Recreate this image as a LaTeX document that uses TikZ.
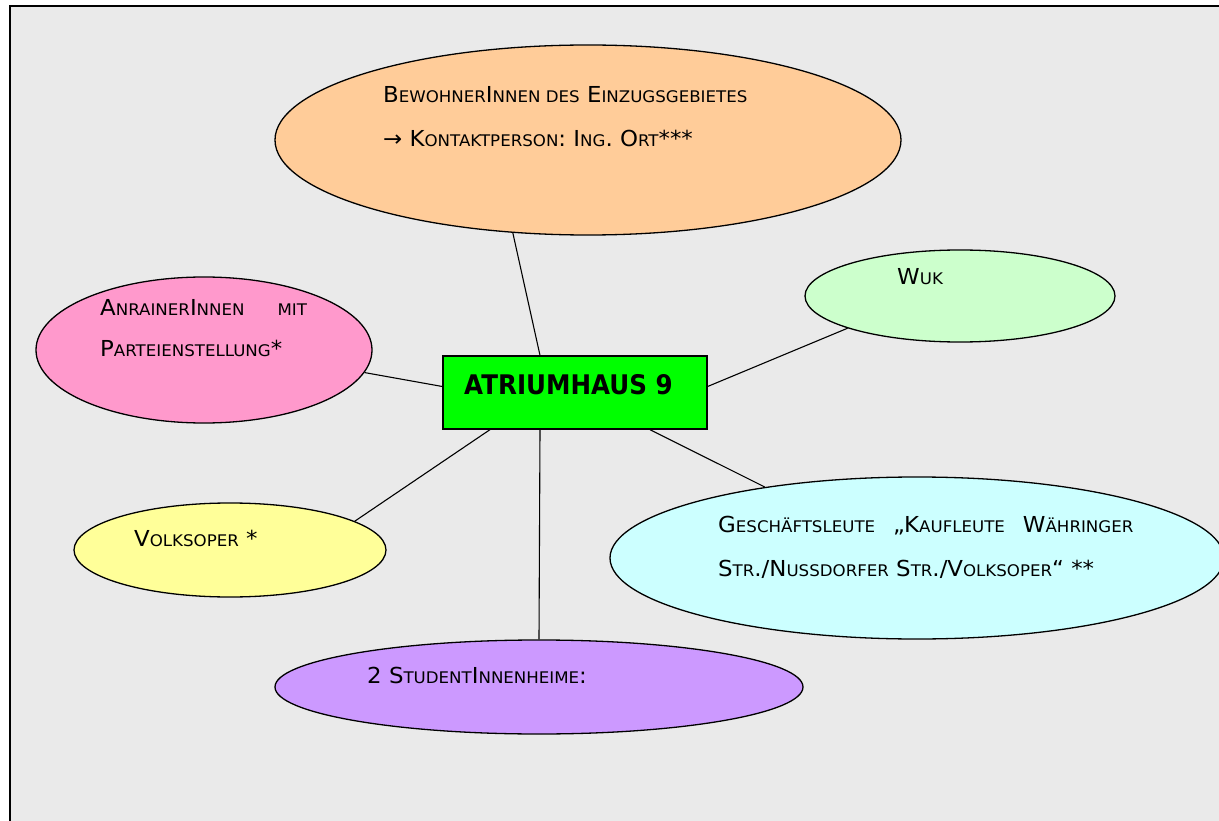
\documentclass[tikz,border=0pt]{standalone}
\usepackage{fontspec}
\setmainfont[FakeStretch=1.04]{DejaVu Sans}
\newfontfamily\hubfont[FakeStretch=0.91]{DejaVu Sans}
\usepackage{xcolor}
\usetikzlibrary{shapes.geometric}
\definecolor{bggray}{RGB}{234,234,234}
\definecolor{orangebub}{RGB}{255,204,153}
\definecolor{pinkbub}{RGB}{255,153,204}
\definecolor{greenbub}{RGB}{204,255,204}
\definecolor{yellowbub}{RGB}{255,255,153}
\definecolor{cyanbub}{RGB}{204,255,255}
\definecolor{purplebub}{RGB}{204,153,255}
\newcommand\smc[1]{{\fontsize{16}{18}\selectfont\MakeUppercase{#1}}}

\begin{document}
\begin{tikzpicture}[x=1pt,y=-1pt,
  bubble/.style={ellipse,draw,line width=1.3pt,inner sep=0pt},
  txt/.style={anchor=base west,inner sep=0pt,font=\fontsize{22}{24}\selectfont},
  link/.style={line width=1.1pt}]
\useasboundingbox (0,0) rectangle (1219,821);
\clip (0,0) rectangle (1219,821);
\fill[bggray] (10,6) rectangle (1219,821);
\draw[line width=2pt] (10,821) -- (10,6) -- (1219,6);

\node[bubble,fill=orangebub,minimum width=626,minimum height=190] (resid) at (588,140) {};
\node[txt] (residtxt) at (383,103) {B\smc{ewohner}I\smc{nnen des} E\smc{inzugsgebietes}};
\node[txt] (contact) at (383,147) {→ K\smc{ontaktperson}: I\smc{ng}. O\smc{rt}***};

\node[bubble,fill=pinkbub,minimum width=336,minimum height=146] (neigh) at (204,350) {};
\node[txt] (neightxt) at (100,316) {A\smc{nrainer}I\smc{nnen}\hspace{33pt}\smc{mit}};
\node[txt] (party) at (100,356) {P\smc{arteienstellung}*};

\node[bubble,fill=greenbub,minimum width=310,minimum height=92] (wuk) at (960,296) {};
\node[txt] (wuktxt) at (897,285) {W\smc{uk}};

\node[bubble,fill=yellowbub,minimum width=312,minimum height=94] (opera) at (230,550) {};
\node[txt] (operatxt) at (134,546) {V\smc{olksoper} *};

\node[bubble,fill=cyanbub,minimum width=614,minimum height=162] (trade) at (917,558) {};
\node[txt] (tradetxt) at (718,532) {G\smc{eschäftsleute}\hspace{18pt}„K\smc{aufleute}\hspace{18pt}W\smc{ähringer}};
\node[txt] (street) at (718,576) {S\smc{tr}./N\smc{ussdorfer} S\smc{tr}./V\smc{olksoper}“ **};

\node[bubble,fill=purplebub,minimum width=528,minimum height=94] (dorm) at (539,687) {};
\node[txt] (dormtxt) at (367,683) {2 S\smc{tudent}I\smc{nnenheime}:};

\node[draw,line width=1.3pt,fill=green,minimum width=264,minimum height=73,inner sep=0pt] (hub) at (575,392.5) {};
\node[anchor=base west,inner sep=0pt,font=\hubfont\fontsize{27}{30}\selectfont\bfseries] (hubtxt) at (464,394) {ATRIUMHAUS 9};

\draw[link] (resid.231) -- ([xshift=-35pt]hub.north);
\draw[link] (neigh.352) -- ([yshift=6pt]hub.west);
\draw[link] (wuk.196) -- ([yshift=6pt]hub.east);
\draw[link] (opera.13) -- ([xshift=-85pt]hub.south);
\draw[link] (trade.155) -- ([xshift=75pt]hub.south);
\draw[link] (dorm.north) -- ([xshift=-35pt]hub.south);
\end{tikzpicture}
\end{document}
